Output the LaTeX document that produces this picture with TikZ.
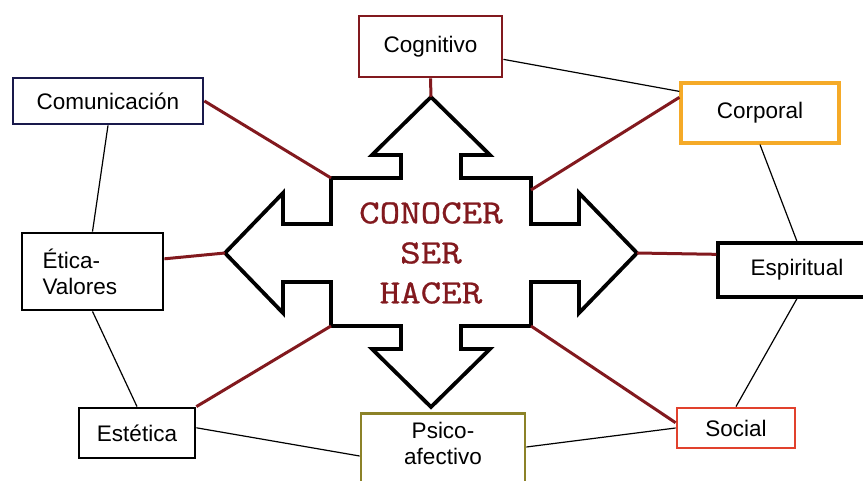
\documentclass[tikz,border=0pt]{standalone}
\usepackage{fontspec}
\setmainfont{Liberation Sans}
\newfontfamily\typefont{lmmono10-regular}[Extension=.otf,FakeStretch=1.15,FakeBold=0.7]
\usetikzlibrary{calc}
\definecolor{wine}{RGB}{130,25,30}
\definecolor{navyblue}{RGB}{25,25,75}
\definecolor{psigold}{RGB}{140,130,40}
\definecolor{corporalorange}{RGB}{245,170,40}
\definecolor{socialred}{RGB}{225,65,45}
\tikzstyle{block} = [rectangle, draw, line width=2.8pt, font=\fontsize{22.5}{26}\selectfont, text centered, inner sep=0pt]
\tikzstyle{line} = [draw, line width=1.2pt]
\tikzstyle{redline} = [draw, wine, line width=3pt]
\tikzstyle{bigarrow} = [draw, line width=3.8pt, line join=miter]

\begin{document}
\begin{tikzpicture}[x=1pt,y=-1pt]

\path[use as bounding box,clip] (0,0) rectangle (863,481);

\node[block,draw=wine,minimum width=143,minimum height=61](cog) at (430.5,46.5){Cognitivo};
\node[block,draw=navyblue,minimum width=190,minimum height=46](com) at (108,101){Comunicaci\'on};
\node[block,text width=100pt,align=left,inner xsep=18pt,minimum width=141,minimum height=77](eti) at (92.5,271.5){\'Etica-\\Valores};
\node[block,minimum width=116,minimum height=50](est) at (137,433){Est\'etica};
\node[block,draw=psigold,anchor=north,text width=150pt,minimum width=164,inner ysep=9pt](psi) at (443,412){Psico-\\afectivo\\\rule{0pt}{34pt}};
\node[block,draw=corporalorange,line width=3.2pt,minimum width=158,minimum height=60](cor) at (760,113){Corporal};
\node[block,line width=3.2pt,minimum width=158,minimum height=54](esp) at (797,270){Espiritual};
\node[block,draw=socialred,minimum width=118,minimum height=40](soc) at (736,428){Social};

% outer ring
\path [line] (cog.-10) -- (cor.165);
\path [line] (cor.south) -- (esp.north);
\path [line] (esp.south) -- (soc.north);
\path [line] ($(psi.north east)+(0,35)$) -- (soc.west);
\path [line] (est.5) -- ($(psi.north west)+(0,44)$);
\path [line] (eti.south) -- (est.north);
\path [line] (com.south) -- (eti.north);

% center
\draw[bigarrow] (431,97) coordinate (tipN) -- (490,155) -- (461,155) -- (461,178)
  -- (531,178) coordinate (bodyNE) -- (531,224) -- (579,224) -- (579,193)
  -- (637,253) coordinate (tipE) -- (579,313) -- (579,282) -- (531,282)
  -- (531,326) coordinate (bodySE) -- (461,326) -- (461,349) -- (490,349)
  -- (431,407) coordinate (tipS) -- (372,349) -- (401,349) -- (401,326)
  -- (331,326) coordinate (bodySW) -- (331,282) -- (283,282) -- (283,313)
  -- (225,253) coordinate (tipW) -- (283,193) -- (283,224) -- (331,224)
  -- (331,178) coordinate (bodyNW) -- (401,178) -- (401,155) -- (372,155) -- cycle;
\node[text=wine,font=\typefont\fontsize{34}{40}\selectfont,align=center](core) at (431,253){CONOCER\\SER\\HACER};

% spokes
\path [redline] (cog.south) -- (tipN);
\path [redline] (com.east) -- (bodyNW);
\path [redline] (cor.169) -- ($(bodyNE)+(0,12)$);
\path [redline] (eti.10) -- (tipW);
\path [redline] (esp.169) -- (tipE);
\path [redline] (est.north east) -- (bodySW);
\path [redline] (soc.175) -- (bodySE);

\end{tikzpicture}
\end{document}
